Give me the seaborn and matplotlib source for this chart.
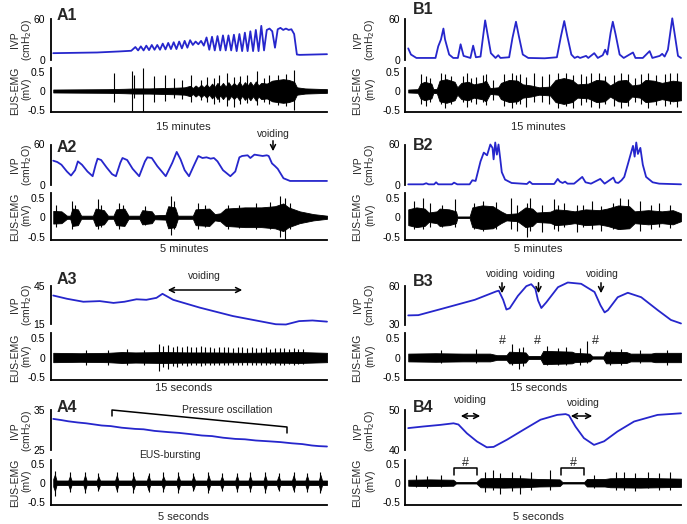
import numpy as np
import seaborn as sns
import matplotlib.pyplot as plt
from matplotlib.patches import FancyArrowPatch
from matplotlib.lines import Line2D

sns.set_theme(style='white')
plt.rcParams['font.family'] = ['Liberation Sans', 'DejaVu Sans']

W, H = 687, 524
BLUE = '#2626cc'

# ---------------- data (time in % of trace, IVP in cmH2O, EMG in mV) ----------------
# A1
a1_ivp_t = [0, 8, 16, 24, 28.5,
            30, 31, 32, 33, 34, 35, 36, 37, 38, 39, 40, 41, 42, 43, 44, 45, 46, 47, 48, 49,
            50, 51, 52, 53, 54, 55, 56, 57, 58, 59, 60, 61, 62, 63, 64, 65, 66, 67, 68, 69,
            70, 71, 72, 73, 74, 75, 76, 77, 78, 79, 80, 81, 82, 83, 84, 85, 86, 87, 88, 89, 90,
            95, 100]
a1_ivp_v = [10, 10.5, 11, 12.5, 13.5,
            19, 14, 20, 14, 21, 14.5, 22, 15, 22, 15, 24, 15.5, 25, 16, 26, 16, 27, 17, 28, 18,
            29, 22, 27, 23, 28, 21, 33, 15, 34, 14, 35, 14, 36, 14, 36, 14, 37, 13, 38, 13,
            40, 13, 42, 13, 44, 13, 50, 14, 44, 46, 42, 18, 45, 47, 44, 46, 44, 45, 38, 8, 7.5,
            8, 8.5]
a1_emg_t = [0, 10, 20, 26, 30, 35, 40, 45, 48,
            50, 51, 52, 53, 54, 55, 56, 57, 58, 59, 60, 61, 62, 63, 64, 65, 66, 67, 68, 69,
            70, 71, 72, 73, 74, 75,
            76, 78, 80, 82, 84, 86, 88, 89, 92, 96, 100]
a1_emg_a = [0.04, 0.045, 0.05, 0.06, 0.07, 0.07, 0.08, 0.09, 0.1,
            0.14, 0.08, 0.15, 0.09, 0.17, 0.1, 0.18, 0.1, 0.2, 0.11, 0.22, 0.12, 0.22, 0.12,
            0.24, 0.13, 0.22, 0.14, 0.25, 0.13, 0.24, 0.15, 0.25, 0.14, 0.26, 0.15,
            0.22, 0.2, 0.28, 0.3, 0.32, 0.3, 0.25, 0.1, 0.07, 0.06, 0.05]
a1_spk_t = [22.2, 28.9, 29.6, 32.9, 36.8, 41, 44.1, 47.1, 50.2, 53.8, 56.3, 58.7, 60.5,
            63.5, 66, 68.4, 70.8, 74.5, 76.9, 78.7, 82, 85, 87.8]
a1_spk_top = [0.5, 0.53, 0.42, 0.62, 0.4, 0.43, 0.34, 0.31, 0.44, 0.3, 0.39, 0.35, 0.44,
              0.48, 0.39, 0.4, 0.43, 0.53, 0.35, 0.44, 0.42, 0.45, 0.57]
a1_spk_bot = [-0.3, -0.55, -0.2, -0.57, -0.3, -0.28, -0.2, -0.22, -0.3, -0.25, -0.3, -0.35, -0.3,
              -0.4, -0.42, -0.35, -0.33, -0.38, -0.3, -0.35, -0.38, -0.4, -0.52]

# B1
b1_ivp_t = [0, 1, 3, 10, 11, 12, 12.9, 13.5, 15, 16.5, 18.2, 19.2, 20.3, 22.8, 23.8, 24.8,
            26.5, 27.3, 28.2, 29.2, 30.3, 32, 33, 33.8, 37, 38.2, 39.5, 40.5, 42, 44, 50,
            54.5, 56, 57.2, 58.3, 59.8, 61, 62.1, 63, 65.2, 66, 68.2, 69.5, 71.3, 72.2, 73,
            74.2, 75, 76, 77.5, 79, 82.4, 83.3, 86, 88.5, 89.5, 92.2, 93.1, 94, 95.2, 96.8,
            97.8, 98.9, 100]
b1_ivp_v = [17, 8, 3, 3, 20, 30, 46, 30, 8, 3, 3, 23, 6, 3, 21, 4,
            5, 30, 58, 35, 10, 3, 7, 3, 4, 32, 56, 36, 8, 3, 2.5,
            4, 35, 57, 35, 8, 3, 5, 3, 6, 3, 10, 3, 7, 15, 8,
            40, 56, 38, 8, 3, 11, 3, 3, 13, 3, 6, 9, 5, 15, 61,
            35, 6, 3]
b1_emg_t = [0, 3.5, 4.5, 6, 8.5, 9.2, 10.5, 11.5, 14, 17, 18, 19.5, 22, 24, 27, 28.5, 30, 33,
            34, 37, 40, 42, 45, 48, 52, 54, 57, 60, 62, 66, 69, 72, 74, 77, 80, 82, 85, 87,
            90, 93, 97, 100]
b1_emg_a = [0.04, 0.05, 0.2, 0.25, 0.2, 0.05, 0.06, 0.28, 0.32, 0.25, 0.1, 0.22, 0.25, 0.18,
            0.22, 0.28, 0.08, 0.1, 0.22, 0.3, 0.28, 0.18, 0.15, 0.1, 0.12, 0.3, 0.35, 0.3,
            0.18, 0.2, 0.3, 0.28, 0.15, 0.28, 0.3, 0.15, 0.18, 0.3, 0.28, 0.22, 0.28, 0.25]
b1_spk_t = [4.5, 6.5, 8, 12, 13.5, 15.5, 20, 21.5, 23, 25, 27.5, 28.5, 31, 35, 38, 39.5, 41,
            43, 46, 49, 51.5, 55, 58, 60.5, 63.5, 65, 67, 70, 72, 75.5, 78, 80.5, 83, 85.5,
            88, 91, 94, 96, 98.5]
b1_spk_top = [0.45, 0.4, 0.35, 0.5, 0.45, 0.4, 0.4, 0.48, 0.35, 0.38, 0.42, 0.45, 0.3, 0.45,
              0.5, 0.42, 0.45, 0.38, 0.48, 0.4, 0.45, 0.5, 0.48, 0.42, 0.45, 0.4, 0.48, 0.5,
              0.4, 0.42, 0.5, 0.45, 0.35, 0.45, 0.5, 0.42, 0.45, 0.48, 0.5]
b1_spk_bot = [-0.35, -0.4, -0.3, -0.35, -0.45, -0.35, -0.3, -0.42, -0.3, -0.35, -0.3, -0.38,
              -0.25, -0.4, -0.45, -0.35, -0.35, -0.42, -0.3, -0.3, -0.35, -0.45, -0.4, -0.45,
              -0.38, -0.3, -0.42, -0.45, -0.35, -0.4, -0.45, -0.4, -0.3, -0.35, -0.45, -0.38,
              -0.4, -0.35, -0.42]

# A2
a2_ivp_t = [0, 1.5, 3, 5, 6.5, 8, 9, 10.5, 12.5, 14.4, 15.5, 16.2, 17.5, 19.5, 21.5, 22.9,
            24.5, 25.3, 27, 29, 31.4, 33.5, 34.4, 36, 38, 41.1, 43.5, 45.1, 46.5, 48, 49.6,
            51.5, 53, 54.5, 56, 57.5, 58.7, 60, 62, 64.7, 66.5, 68, 69, 71, 72, 73.5, 75,
            76.5, 78, 78.7, 79.9, 81, 82, 84.1, 86.5, 100]
a2_ivp_v = [36, 34, 30, 20, 14, 22, 35, 30, 20, 13, 30, 39, 37, 26, 16, 13,
            33, 40, 37, 24, 13, 35, 41, 40, 28, 13, 33, 49, 38, 22, 13,
            30, 43, 40, 41, 39, 40, 35, 22, 13, 20, 41, 43, 44, 40, 45, 44,
            43, 44, 43, 32, 28, 24, 10, 6, 6]
a2_emg_t = [0, 3, 5, 6.2, 7, 9, 10.2, 14.5, 15.5, 18.5, 20, 22, 23, 26, 27.5, 31.5, 32.5, 36,
            37, 41, 42, 44.5, 45.5, 51, 52, 57, 59, 61, 63, 70, 76, 81, 84, 86, 90, 95, 100]
a2_emg_a = [0.16, 0.15, 0.04, 0.04, 0.22, 0.2, 0.04, 0.04, 0.22, 0.18, 0.04, 0.04, 0.2, 0.22,
            0.04, 0.04, 0.18, 0.15, 0.05, 0.06, 0.28, 0.25, 0.04, 0.04, 0.2, 0.22, 0.08, 0.1,
            0.22, 0.25, 0.25, 0.28, 0.35, 0.25, 0.15, 0.08, 0.04]
a2_spk_t = [1, 7, 8, 16.2, 17.5, 24, 25.5, 33.5, 43, 44, 53, 55.5, 64, 68, 74, 79, 83, 84.5, 86.5]
a2_spk_top = [0.3, 0.4, 0.3, 0.45, 0.3, 0.35, 0.3, 0.28, 0.55, 0.4, 0.35, 0.3, 0.3, 0.32, 0.35,
              0.38, 0.55, 0.5, 0.35]
a2_spk_bot = [-0.25, -0.3, -0.2, -0.3, -0.25, -0.3, -0.2, -0.2, -0.45, -0.3, -0.3, -0.25, -0.3,
              -0.28, -0.3, -0.3, -0.5, -0.6, -0.3]

# B2
b2_ivp_t = [0, 5.5, 6.6, 7.5, 9.5, 10.2, 11, 16, 16.8, 18, 22.5, 23.5, 24.7, 26.5, 27.7, 28.9,
            30.1, 30.9, 31.3, 31.9, 32.5, 33.1, 33.7, 34.3, 35.5, 37.9, 43.5, 44.5, 45.5, 53.5,
            54.8, 55.6, 56.6, 57.5, 58.4, 60.8, 63.8, 65, 67, 70.4, 72, 75.2, 76, 77, 78.2,
            79.2, 80.6, 82.4, 83, 83.6, 84.2, 85.1, 86, 87.2, 89.6, 92, 100]
b2_ivp_v = [1, 1, 2.6, 1, 1, 4, 1, 1, 3.5, 1, 1, 7, 6, 35, 48, 44,
            60, 55, 38, 63, 45, 60, 40, 19, 8, 3, 1.5, 5, 1.5, 1.5,
            9, 5, 3, 5, 2, 2, 12, 4, 2, 9, 2, 11, 4, 3, 7,
            12, 32, 58, 42, 63, 46, 55, 30, 12, 4, 2, 1]
b2_emg_t = [0, 3, 6, 7.5, 10.5, 11.5, 15, 17.5, 18, 22.5, 23.5, 27, 31, 34, 36, 40, 43, 45.5,
            47, 52, 54, 58, 61, 65, 70, 73, 77, 81, 83, 88, 93, 97, 100]
b2_emg_a = [0.2, 0.25, 0.22, 0.12, 0.15, 0.22, 0.2, 0.15, 0.02, 0.02, 0.25, 0.3, 0.28, 0.15,
            0.08, 0.1, 0.25, 0.22, 0.12, 0.14, 0.2, 0.18, 0.15, 0.2, 0.18, 0.22, 0.3, 0.28,
            0.15, 0.18, 0.15, 0.18, 0.1]
b2_spk_t = [2, 5.5, 8, 12.5, 17, 24, 27.5, 32, 37.5, 40, 43.5, 44.5, 49, 53.5, 55, 57, 62, 64,
            67.5, 70.5, 75, 77.5, 80.5, 85, 89, 92, 96]
b2_spk_top = [0.4, 0.5, 0.35, 0.3, 0.45, 0.35, 0.4, 0.38, 0.5, 0.3, 0.35, 0.5, 0.3, 0.45, 0.3,
              0.35, 0.3, 0.32, 0.4, 0.28, 0.35, 0.5, 0.45, 0.4, 0.3, 0.35, 0.32]
b2_spk_bot = [-0.3, -0.3, -0.25, -0.25, -0.25, -0.3, -0.35, -0.3, -0.3, -0.35, -0.5, -0.35,
              -0.38, -0.3, -0.35, -0.25, -0.38, -0.25, -0.3, -0.35, -0.3, -0.3, -0.25, -0.35,
              -0.3, -0.25, -0.28]

# A3
a3_ivp_t = [0, 5, 11, 17, 22, 26, 30.4, 34, 37.7, 39.9, 43.8, 53.5, 65.6, 75.3, 81.3, 85,
            89.8, 94.7, 100]
a3_ivp_v = [37.3, 34.8, 32.5, 33, 31.6, 32.5, 34.4, 34, 35.5, 38.6, 34, 28, 21.5, 17.6, 15.2,
            15, 17.6, 18.1, 17.2]
a3_emg_t = [0, 10, 20, 25, 30, 40, 50, 60, 70, 80, 90, 100]
a3_emg_a = [0.12, 0.11, 0.12, 0.14, 0.13, 0.14, 0.13, 0.13, 0.12, 0.13, 0.14, 0.12]
a3_spk_t = [12, 20, 27, 33,
            38.5, 40.2, 41.9, 43.6, 45.3, 47.0, 48.7, 50.4, 52.1, 53.8, 55.5, 57.2, 58.9, 60.6,
            62.3, 64.0, 65.7, 67.4, 69.1, 70.8, 72.5, 74.2, 75.9, 77.6, 79.3, 81.0, 82.7, 84.4,
            86.1, 87.8, 89.5, 91.2]
a3_spk_top = [0.2, 0.18, 0.22, 0.2,
              0.35, 0.3, 0.33, 0.28, 0.3, 0.27, 0.3, 0.28, 0.26, 0.3, 0.27, 0.28, 0.25, 0.27,
              0.26, 0.28, 0.25, 0.26, 0.27, 0.24, 0.26, 0.25, 0.24, 0.26, 0.23, 0.25, 0.24, 0.25,
              0.23, 0.24, 0.22, 0.23]
a3_spk_bot = [-0.2, -0.2, -0.18, -0.2,
              -0.35, -0.25, -0.3, -0.22, -0.25, -0.2, -0.22, -0.2, -0.2, -0.22, -0.2, -0.2, -0.18,
              -0.2, -0.19, -0.2, -0.18, -0.19, -0.2, -0.18, -0.19, -0.18, -0.18, -0.19, -0.17,
              -0.18, -0.18, -0.18, -0.17, -0.18, -0.17, -0.17]

# B3
b3_ivp_t = [0, 3.7, 12.2, 24.4, 32.3, 33.2, 34.8, 36, 37.2, 40.2, 43.3, 45.1, 46.6, 47.6, 48.8,
            50.6, 54.9, 58.5, 63.4, 68.3, 70.5, 72, 73.2, 76.8, 80.5, 85.4, 91.5, 96.3, 100]
b3_ivp_v = [37, 37.2, 42, 49, 55.5, 56, 49, 41.5, 42.5, 52, 59.5, 61, 57.5, 48.5, 42.7,
            47, 58.7, 62.3, 61.3, 55, 44.7, 39.3, 41, 51, 54.4, 51, 41, 33.5, 30.8]
b3_emg_t = [0, 10, 20, 30, 32.5, 36, 37, 43, 44, 48.5, 49.5, 55, 60, 61, 66.5, 67.5, 71.5, 72.5,
            80, 81.5, 89, 90.5, 100]
b3_emg_a = [0.1, 0.11, 0.1, 0.1, 0.06, 0.06, 0.15, 0.13, 0.04, 0.04, 0.17, 0.16, 0.15, 0.12,
            0.1, 0.03, 0.03, 0.15, 0.14, 0.1, 0.1, 0.12, 0.12]
b3_spk_t = [12, 25, 38, 40.5, 42, 51, 55, 58, 63, 65.5, 74, 78, 85, 95]
b3_spk_top = [0.2, 0.22, 0.35, 0.25, 0.28, 0.3, 0.25, 0.28, 0.25, 0.42, 0.2, 0.22, 0.2, 0.2]
b3_spk_bot = [-0.15, -0.15, -0.2, -0.3, -0.22, -0.2, -0.2, -0.2, -0.2, -0.15, -0.18, -0.2, -0.15,
              -0.18]

# A4
a4_ivp_t = [0, 3, 5.5, 9, 12, 17.7, 21, 25, 29.9, 33, 37, 42, 46, 50, 54.3, 58, 62, 66.5, 70,
            74, 78.7, 83, 87.2, 91, 94.5, 97, 100]
a4_ivp_v = [32.9, 32.6, 32.3, 32.0, 31.8, 31.25, 31.1, 30.7, 30.4, 30.3, 29.9, 29.6, 29.4, 29.1,
            28.75, 28.6, 28.2, 27.9, 27.8, 27.5, 27.3, 27.1, 26.8, 26.6, 26.25, 26.1, 26.0]
a4_emg_t = [0, 0.6, 1.2, 5.5, 6.1, 6.7, 11.0, 11.6, 12.2, 15.9, 16.5, 17.1, 22.6, 23.2, 23.8,
            28.7, 29.3, 29.9, 34.2, 34.8, 35.4, 39.6, 40.2, 40.8, 45.1, 45.7, 46.3, 50.6, 51.2,
            51.8, 56.1, 56.7, 57.3, 61.0, 61.6, 62.2, 66.5, 67.1, 67.7, 71.3, 71.9, 72.5, 76.8,
            77.4, 78.0, 81.7, 82.3, 82.9, 87.2, 87.8, 88.4, 92.1, 92.7, 93.3, 97.0, 97.6, 98.2,
            100]
a4_emg_a = [0.1, 0.22, 0.06,
            0.06, 0.18, 0.06, 0.06, 0.2, 0.06, 0.06, 0.17, 0.06, 0.06, 0.2, 0.06,
            0.06, 0.18, 0.06, 0.06, 0.2, 0.06, 0.06, 0.17, 0.06, 0.06, 0.19, 0.06,
            0.06, 0.18, 0.06, 0.06, 0.2, 0.06, 0.06, 0.17, 0.06, 0.06, 0.19, 0.06,
            0.06, 0.18, 0.06, 0.06, 0.2, 0.06, 0.06, 0.18, 0.06, 0.06, 0.2, 0.06,
            0.06, 0.19, 0.06, 0.06, 0.21, 0.06,
            0.06]
a4_spk_t = [0.6, 6.1, 11.6, 16.5, 23.2, 29.3, 34.8, 40.2, 45.7, 51.2, 56.7, 61.6, 67.1, 71.9,
            77.4, 82.3, 87.8, 92.7, 97.6]
a4_spk_top = [0.32, 0.28, 0.3, 0.25, 0.28, 0.3, 0.26, 0.28, 0.3, 0.27, 0.3, 0.25, 0.27, 0.28,
              0.3, 0.26, 0.28, 0.27, 0.3]
a4_spk_bot = [-0.35, -0.25, -0.28, -0.22, -0.25, -0.27, -0.24, -0.25, -0.28, -0.22, -0.26, -0.22,
              -0.25, -0.24, -0.27, -0.22, -0.25, -0.24, -0.28]

# B4
b4_ivp_t = [0, 5.5, 11.7, 16.6, 18.4, 21.5, 25.2, 28.8, 31.3, 36.2, 42.3, 48.5, 54.6, 57.7, 58.9,
            61.3, 64.4, 68.1, 71.8, 76.7, 82.8, 91.4, 100]
b4_ivp_v = [45.6, 46.0, 46.4, 46.8, 46.5, 44.3, 42.25, 40.8, 40.9, 42.7, 45.2, 47.7, 48.9, 49.1,
            48.8, 46.0, 43.1, 41.4, 42.3, 44.75, 47.25, 48.9, 49.3]
b4_emg_t = [0, 8, 16.5, 17.5, 25, 26.5, 35, 42, 48, 55.5, 56.5, 64.5, 65.5, 72, 74, 85, 100]
b4_emg_a = [0.08, 0.09, 0.08, 0.02, 0.02, 0.12, 0.13, 0.12, 0.1, 0.09, 0.02, 0.02, 0.1, 0.1,
            0.12, 0.13, 0.11]
b4_spk_t = [3, 7, 12, 28, 31, 33.5, 38, 41, 45, 52, 68, 76, 79, 83, 88, 92, 96]
b4_spk_top = [0.2, 0.18, 0.2, 0.3, 0.35, 0.25, 0.3, 0.22, 0.3, 0.35, 0.2, 0.28, 0.3, 0.25, 0.3,
              0.25, 0.28]
b4_spk_bot = [-0.12, -0.15, -0.12, -0.25, -0.2, -0.3, -0.22, -0.3, -0.18, -0.2, -0.15, -0.18,
              -0.2, -0.22, -0.15, -0.2, -0.18]

panel_names = ['A1', 'B1', 'A2', 'B2', 'A3', 'B3', 'A4', 'B4']
ivp_ticks = {'A1': (0, 60), 'B1': (0, 60), 'A2': (0, 60), 'B2': (0, 60),
             'A3': (15, 45), 'B3': (30, 60), 'A4': (25, 35), 'B4': (40, 50)}
time_labels = {'A1': '15 minutes', 'B1': '15 minutes', 'A2': '5 minutes', 'B2': '5 minutes',
               'A3': '15 seconds', 'B3': '15 seconds', 'A4': '5 seconds', 'B4': '5 seconds'}
emg_ticks = [0.5, 0, -0.5]
emg_ticklabels = ['0.5', '0', '-0.5']

data = {
    'A1': (a1_ivp_t, a1_ivp_v, a1_emg_t, a1_emg_a, a1_spk_t, a1_spk_top, a1_spk_bot),
    'B1': (b1_ivp_t, b1_ivp_v, b1_emg_t, b1_emg_a, b1_spk_t, b1_spk_top, b1_spk_bot),
    'A2': (a2_ivp_t, a2_ivp_v, a2_emg_t, a2_emg_a, a2_spk_t, a2_spk_top, a2_spk_bot),
    'B2': (b2_ivp_t, b2_ivp_v, b2_emg_t, b2_emg_a, b2_spk_t, b2_spk_top, b2_spk_bot),
    'A3': (a3_ivp_t, a3_ivp_v, a3_emg_t, a3_emg_a, a3_spk_t, a3_spk_top, a3_spk_bot),
    'B3': (b3_ivp_t, b3_ivp_v, b3_emg_t, b3_emg_a, b3_spk_t, b3_spk_top, b3_spk_bot),
    'A4': (a4_ivp_t, a4_ivp_v, a4_emg_t, a4_emg_a, a4_spk_t, a4_spk_top, a4_spk_bot),
    'B4': (b4_ivp_t, b4_ivp_v, b4_emg_t, b4_emg_a, b4_spk_t, b4_spk_top, b4_spk_bot),
}

# ---------------- layout in pixels (top-left origin) ----------------
col_x = {'A': (50.5, 327), 'B': (405.5, 681)}
row_geom = [  # ivp top, ivp bottom, emg 0.5, emg -0.5, time label y
    (19, 60, 72.5, 109.5, 127),
    (144.5, 185, 197.5, 237, 249.5),
    (285.5, 324.5, 338, 377, 388),
    (410.5, 450.5, 464, 501.5, 517),
]
label_pos = {'A1': (57, 15), 'B1': (413, 10), 'A2': (57, 147), 'B2': (413, 146),
             'A3': (57, 280), 'B3': (413, 282), 'A4': (57, 408), 'B4': (413, 407)}
ylab_x = {'A': (15, 26.5), 'B': (357.5, 370)}

fig = plt.figure(figsize=(W / 100, H / 100), dpi=100)


def P(x, y):
    return (x / W, 1 - y / H)


def place(x0, y0, x1, y1):
    return fig.add_axes([x0 / W, 1 - y1 / H, (x1 - x0) / W, (y1 - y0) / H])


def style_axes(ax, bottom=False):
    for s in ['top', 'right']:
        ax.spines[s].set_visible(False)
    ax.spines['bottom'].set_visible(bottom)
    for s in ['left', 'bottom']:
        ax.spines[s].set_linewidth(1.3)
        ax.spines[s].set_color('black')
    ax.set_xticks([])
    ax.tick_params(axis='y', length=0, pad=4, labelsize=7.5, colors='black')
    ax.set_facecolor('none')
    ax.set_xlim(-1, 100)


for name in panel_names:
    col = name[0]
    row = int(name[1]) - 1
    x0, x1 = col_x[col]
    it, ib, e5, em5, ty = row_geom[row]
    ivp_t, ivp_v, emg_t, emg_a, spk_t, spk_top, spk_bot = data[name]

    # IVP trace
    ax1 = place(x0, it, x1, ib)
    sns.lineplot(x=ivp_t, y=ivp_v, ax=ax1, color=BLUE, lw=1.3, sort=False, estimator=None)
    ax1.lines[-1].set_clip_on(False)
    lo, hi = ivp_ticks[name]
    ax1.set_ylim(lo, hi)
    ax1.set_yticks([lo, hi])
    ax1.set_yticklabels([str(lo), str(hi)])
    style_axes(ax1)

    # EMG trace
    ppu = em5 - e5
    ax2 = place(x0, e5 - 0.12 * ppu, x1, em5 + 0.08 * ppu)
    t = np.asarray(emg_t)
    a = np.asarray(emg_a)
    ax2.fill_between(t, -a, a, color='black', lw=0.6)
    ax2.vlines(spk_t, spk_bot, spk_top, color='black', lw=0.8)
    ax2.set_ylim(-0.58, 0.62)
    ax2.set_yticks(emg_ticks)
    ax2.set_yticklabels(emg_ticklabels)
    style_axes(ax2, bottom=True)

    # axis labels, one text per line
    lx1, lx2 = ylab_x[col]
    ymid = (it + ib) / 2
    fig.text(*P(lx1, ymid), 'IVP', rotation=90, ha='center', va='center', fontsize=7.5)
    fig.text(*P(lx2, ymid), '(cmH$_2$O)', rotation=90, ha='center', va='center', fontsize=7.5)
    emid = (e5 + em5) / 2
    fig.text(*P(lx1, emid), 'EUS-EMG', rotation=90, ha='center', va='center', fontsize=7.5)
    fig.text(*P(lx2, emid - 2), '(mV)', rotation=90, ha='center', va='center', fontsize=7.5)

    fig.text(*P((x0 + x1) / 2 - 5, ty), time_labels[name], ha='center', va='center', fontsize=8)
    px, py = label_pos[name]
    fig.text(*P(px, py), name, ha='left', va='center', fontsize=11.5, fontweight='bold')


def arrow(xa, ya, xb, yb, style='->'):
    fig.add_artist(FancyArrowPatch(P(xa, ya), P(xb, yb), transform=fig.transFigure,
                                   arrowstyle=style, mutation_scale=9, lw=1.1, color='black'))


def bracket(xs, ys):
    fig.add_artist(Line2D([x / W for x in xs], [1 - y / H for y in ys], transform=fig.transFigure,
                          color='black', lw=1.1))


ann = dict(ha='center', va='center', fontsize=7.5)
# A2
fig.text(*P(273, 134), 'voiding', **ann)
arrow(273, 138, 273, 154)
# A3
fig.text(*P(204, 276), 'voiding', **ann)
arrow(165, 290, 245, 290, '<->')
# B3
for vx in [502, 539, 602]:
    fig.text(*P(vx, 274), 'voiding', **ann)
for vx in [502, 538.5, 601]:
    arrow(vx, 280, vx, 296)
for hx in [502, 537, 595]:
    fig.text(*P(hx, 341), '#', ha='center', va='center', fontsize=9)
# A4
bracket([112, 112, 287, 287], [416, 410, 427, 433])
fig.text(*P(227, 410), 'Pressure oscillation', **ann)
fig.text(*P(170, 455), 'EUS-bursting', **ann)
# B4
fig.text(*P(470, 400), 'voiding', **ann)
fig.text(*P(583, 403), 'voiding', **ann)
arrow(458, 416, 483, 416, '<->')
arrow(568, 416, 595, 416, '<->')
bracket([454, 454, 477, 477], [475, 468, 468, 475])
bracket([561, 561, 584, 584], [475, 468, 468, 475])
fig.text(*P(465, 463), '#', ha='center', va='center', fontsize=9)
fig.text(*P(573, 463), '#', ha='center', va='center', fontsize=9)

fig.savefig('out.png', dpi=100)
